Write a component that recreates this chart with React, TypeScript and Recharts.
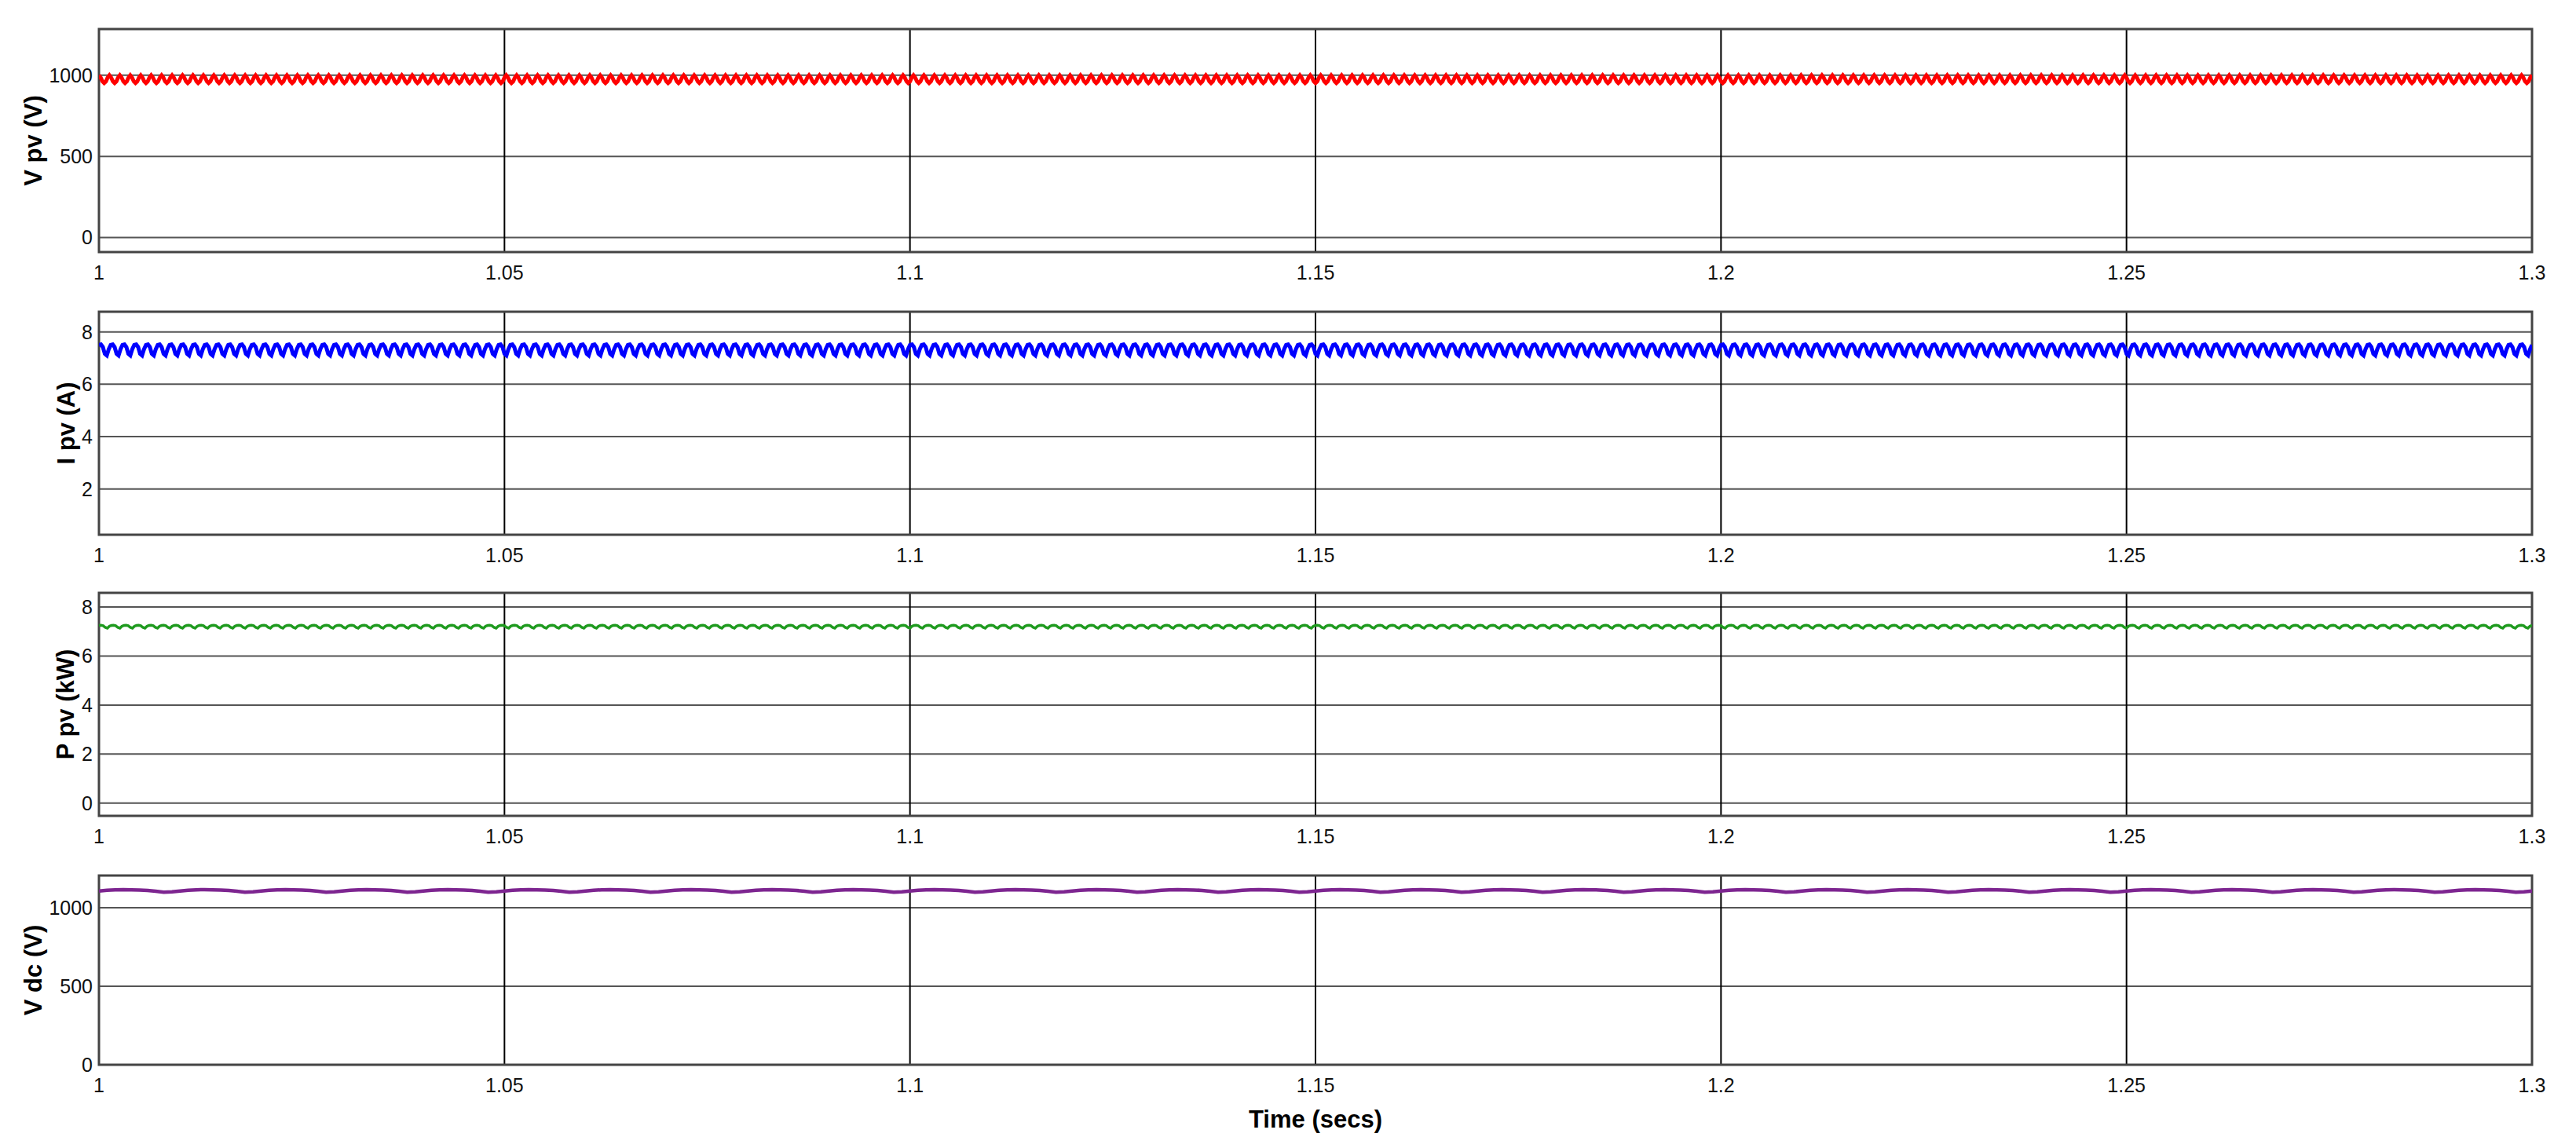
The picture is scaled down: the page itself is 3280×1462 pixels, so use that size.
import { LineChart, Line, XAxis, YAxis, CartesianGrid, ReferenceArea } from "recharts";

const FONT = "'Liberation Sans', Arial, sans-serif";

const timeTicks = [1, 1.05, 1.1, 1.15, 1.2, 1.25, 1.3];
const vpvTicks = [0, 500, 1000];
const ipvTicks = [2, 4, 6, 8];
const ppvTicks = [0, 2, 4, 6, 8];
const vdcTicks = [0, 500, 1000];

const vpvRipple = [1000, 986, 963, 952, 962, 986];
const vpvPeriods = 233;
const ipvRipple = [7.5, 7.52, 7.42, 7.16, 7.1, 7.34];
const ipvPeriods = 207;
const ppvRipple = [7.25, 7.26, 7.24, 7.17, 7.14, 7.22];
const ppvPeriods = 194;
const vdcRipple = [1106, 1111, 1114, 1115, 1114, 1113, 1110, 1105, 1099, 1101];
const vdcPeriods = 30;

function buildTrace(ripple: number[], periods: number) {
  const n = ripple.length * periods;
  const rows: { t: number; v: number }[] = [];
  for (let k = 0; k <= n; k++) rows.push({ t: 1 + (0.3 * k) / n, v: ripple[k % ripple.length] });
  return rows;
}

const vpvData = buildTrace(vpvRipple, vpvPeriods);
const ipvData = buildTrace(ipvRipple, ipvPeriods);
const ppvData = buildTrace(ppvRipple, ppvPeriods);
const vdcData = buildTrace(vdcRipple, vdcPeriods);

type PanelProps = {
  top: number;
  plotH: number;
  data: { t: number; v: number }[];
  domain: [number, number];
  ticks: number[];
  label: string;
  labelX: number;
  color: string;
  width: number;
  last?: boolean;
};

function Panel({ top, plotH, data, domain, ticks, label, labelX, color, width, last }: PanelProps) {
  const xAxisH = last ? 110 : 50;
  return (
    <div style={{ position: "absolute", left: 0, top: top - 10 }}>
      <LineChart
        width={3280}
        height={10 + plotH + xAxisH}
        data={data}
        margin={{ top: 10, right: 56, left: 0, bottom: 0 }}
      >
        <CartesianGrid vertical={false} stroke="#555" strokeWidth={2} />
        <CartesianGrid horizontal={false} stroke="#000" strokeWidth={2} />
        <XAxis
          type="number"
          dataKey="t"
          domain={[1, 1.3]}
          ticks={timeTicks}
          interval={0}
          allowDataOverflow
          height={xAxisH}
          axisLine={false}
          tickLine={false}
          tickSize={0}
          tickMargin={17}
          tick={{ fontSize: 25, fill: "#111", fontFamily: FONT }}
          label={
            last
              ? ({ viewBox }: any) => (
                  <text
                    x={viewBox.x + viewBox.width / 2}
                    y={viewBox.y + 69}
                    textAnchor="middle"
                    dominantBaseline="central"
                    fontFamily={FONT}
                    fontWeight="bold"
                    fontSize={31}
                    fill="#000"
                  >
                    Time (secs)
                  </text>
                )
              : undefined
          }
        />
        <YAxis
          type="number"
          domain={domain}
          ticks={ticks}
          interval={0}
          allowDataOverflow
          width={126}
          axisLine={false}
          tickLine={false}
          tickSize={0}
          tickMargin={8}
          tick={{ fontSize: 25, fill: "#111", fontFamily: FONT }}
          label={({ viewBox }: any) => {
            const cy = viewBox.y + viewBox.height / 2;
            return (
              <text
                x={labelX}
                y={cy}
                transform={`rotate(-90 ${labelX} ${cy})`}
                textAnchor="middle"
                dominantBaseline="central"
                fontFamily={FONT}
                fontWeight="bold"
                fontSize={31}
                fill="#000"
              >
                {label}
              </text>
            );
          }}
        />
        <Line dataKey="v" stroke={color} strokeWidth={width} dot={false} isAnimationActive={false} />
        <ReferenceArea
          x1={1}
          x2={1.3}
          y1={domain[0]}
          y2={domain[1]}
          fill="none"
          stroke="#444"
          strokeWidth={3}
          ifOverflow="visible"
        />
      </LineChart>
    </div>
  );
}

export default function App() {
  return (
    <div style={{ position: "absolute", left: 0, top: 0, width: 3280, height: 1462, background: "#fff" }}>
      <Panel top={37} plotH={284} data={vpvData} domain={[-90, 1285]} ticks={vpvTicks} label="V pv (V)" labelX={42} color="#ff0000" width={5} />
      <Panel top={397} plotH={284} data={ipvData} domain={[0.25, 8.77]} ticks={ipvTicks} label="I pv (A)" labelX={84} color="#0000ff" width={5} />
      <Panel top={755} plotH={284} data={ppvData} domain={[-0.52, 8.58]} ticks={ppvTicks} label="P pv (kW)" labelX={83} color="#1f9a1f" width={3.5} />
      <Panel top={1115} plotH={241} data={vdcData} domain={[0, 1205]} ticks={vdcTicks} label="V dc (V)" labelX={42} color="#7d2590" width={4.5} last />
    </div>
  );
}
